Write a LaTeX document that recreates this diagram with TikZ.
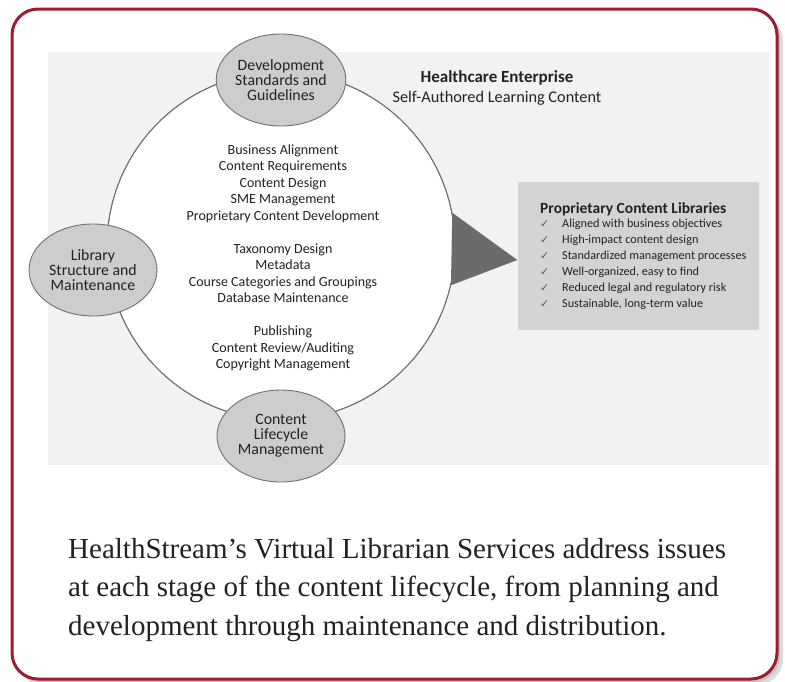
\documentclass[tikz,border=0pt]{standalone}
\usepackage{fontspec}
\setmainfont{Liberation Serif}
\setsansfont{Carlito}
\newfontfamily\checkfont{DejaVu Sans}
\usetikzlibrary{shapes.geometric, positioning}
\usepackage{xcolor}
\definecolor{cFrame}{HTML}{A01A30}
\definecolor{cShadow}{HTML}{8C8C8C}
\definecolor{cPanel}{HTML}{F2F2F3}
\definecolor{cStage}{HTML}{CDCDCD}
\definecolor{cEdge}{HTML}{707070}
\definecolor{cBox}{HTML}{D3D3D3}
\definecolor{cArrow}{HTML}{6B6B6E}
\definecolor{cText}{HTML}{222222}
\definecolor{cCheck}{HTML}{5A5A5A}
\tikzset{
  frame/.style = {
    draw=cFrame,
    fill=white,
    line width=3pt,
    rounded corners=26pt
  },
  hub/.style = {
    circle,
    draw=cEdge,
    fill=white,
    line width=0.9pt,
    minimum size=348pt,
    inner sep=0pt
  },
  stage/.style = {
    ellipse,
    draw=cEdge,
    fill=cStage,
    line width=0.9pt,
    minimum width=128pt,
    minimum height=92pt,
    inner sep=0pt,
    align=center,
    text=cText,
    font=\sffamily\fontsize{15.8}{15}\selectfont
  },
  tasks/.style = {
    align=center,
    text=cText,
    font=\sffamily\fontsize{14}{16.5}\selectfont
  },
  header/.style = {
    align=center,
    text=cText,
    font=\sffamily\fontsize{16.3}{20}\selectfont
  },
  libbox/.style = {
    rectangle,
    fill=cBox,
    minimum width=241pt,
    minimum height=148pt
  },
  libtitle/.style = {
    anchor=west,
    inner sep=0pt,
    text=cText,
    font=\sffamily\bfseries\fontsize{15.5}{16}\selectfont
  },
  libitem/.style = {
    anchor=west,
    inner sep=0pt,
    text=cText,
    font=\sffamily\fontsize{12.2}{16}\selectfont
  },
  caption/.style = {
    anchor=west,
    align=left,
    inner sep=0pt,
    text=cText,
    font=\rmfamily\fontsize{29}{38.5}\selectfont
  },
}
\newcommand{\tick}{\makebox[22pt][l]{\checkfont\color{cCheck}\fontsize{11}{11}\selectfont ✓}}

\begin{document}
\begin{tikzpicture}[x=1pt, y=-1pt]
    \useasboundingbox (0,0) rectangle (785,681);
    % frame with its shadow
    \fill [cShadow, opacity=.3, rounded corners=26pt] (17,15) rectangle (783,685);
    \fill [cShadow, opacity=.3, rounded corners=26pt] (14,12) rectangle (780,682);
    \path [frame] (12,9) rectangle (777,679);
    \fill [cPanel] (48,52) rectangle (770,465);
    % lifecycle
    \node [libbox] (libs) at (638,256) {};
    \node [hub] (hub) at (281,246) {};
    \fill [cArrow] (hub.11) -- ([yshift=-4pt]libs.west) -- (hub.-13) -- cycle;
    \draw [cEdge, line width=0.9pt] (hub) circle (174pt);
    \node [tasks] (task-list) at (283,258) {Business Alignment\\Content Requirements\\Content Design\\SME Management\\Proprietary Content Development\\[16.5pt]Taxonomy Design\\Metadata\\Course Categories and Groupings\\Database Maintenance\\[16.5pt]Publishing\\Content Review/Auditing\\Copyright Management};
    \node [stage] (stage-dev) at (281,80) {Development\\Standards and\\Guidelines};
    \node [stage] (stage-lib) at (93,270) {Library\\Structure and\\Maintenance};
    \node [stage] (stage-life) at (281,436) {Content\\Lifecycle\\Management};
    \node [header] (enterprise) at (497,88) {\textbf{\fontsize{17}{20}\selectfont Healthcare Enterprise}\\Self-Authored Learning Content};
    % libraries box
    \node [libtitle] (libs-title) at (540,209) {Proprietary Content Libraries};
    \foreach \item [count=\i] in {Aligned with business objectives, High-impact content design, Standardized management processes, {Well-organized, easy to find}, Reduced legal and regulatory risk, {Sustainable, long-term value}}
      \node [libitem] (libs-\i) at (540,{224+16*(\i-1)}) {\tick\item};
    \node [caption] (caption) at (68,590) {HealthStream’s Virtual Librarian Services address issues\\at each stage of the content lifecycle, from planning and\\development through maintenance and distribution.};
  \end{tikzpicture}
\end{document}
